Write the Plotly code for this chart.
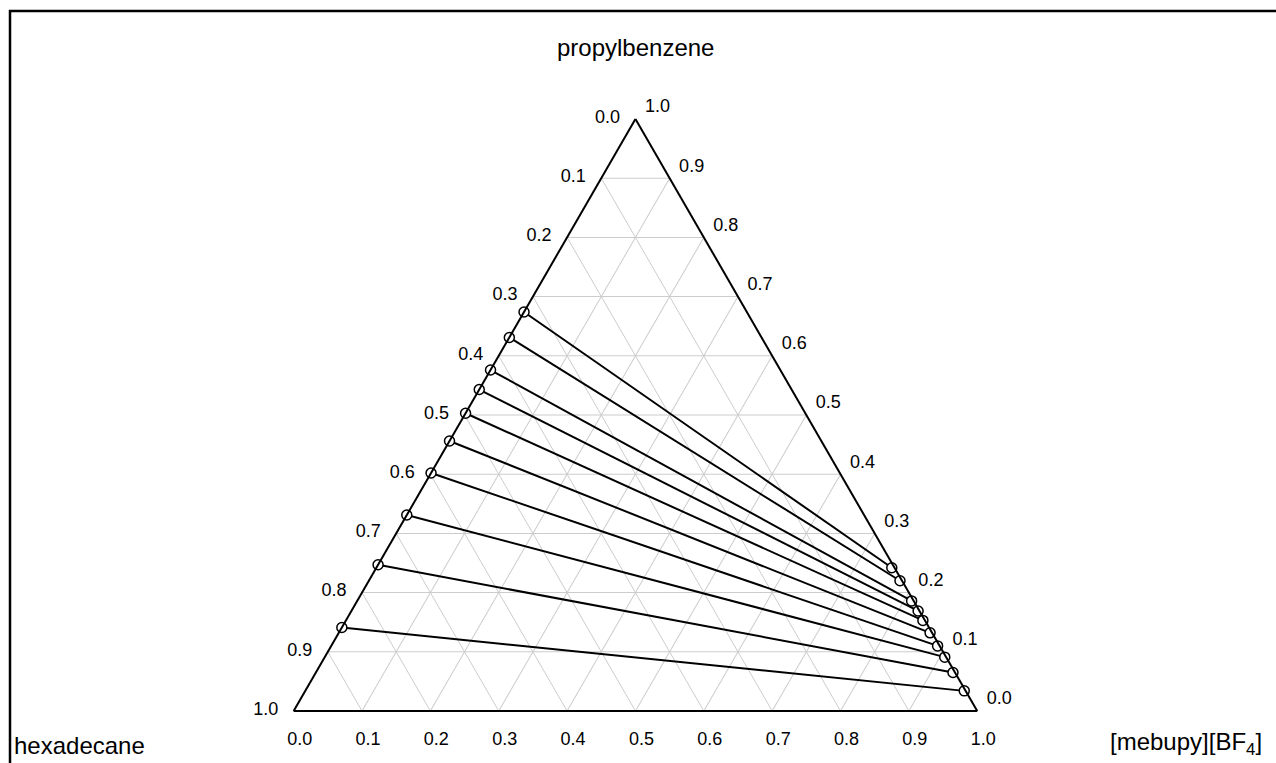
import plotly.graph_objects as go

# ---- data (mass fractions) ----
# hydrocarbon-rich phase (left end of each tie line)
left_propylbenzene = [0.674, 0.631, 0.576, 0.543, 0.503, 0.456, 0.402, 0.331, 0.247, 0.141]
left_hexadecane    = [0.326, 0.369, 0.424, 0.457, 0.497, 0.544, 0.598, 0.669, 0.753, 0.859]
left_mebupy        = [0.000, 0.000, 0.000, 0.000, 0.000, 0.000, 0.000, 0.000, 0.000, 0.000]

# ionic-liquid-rich phase (right end of each tie line)
right_propylbenzene = [0.242, 0.220, 0.186, 0.169, 0.153, 0.132, 0.110, 0.091, 0.065, 0.034]
right_hexadecane    = [0.004, 0.003, 0.003, 0.002, 0.003, 0.003, 0.003, 0.002, 0.003, 0.002]
right_mebupy        = [0.754, 0.777, 0.811, 0.829, 0.844, 0.865, 0.887, 0.907, 0.932, 0.964]

tick_values = [0.0, 0.1, 0.2, 0.3, 0.4, 0.5, 0.6, 0.7, 0.8, 0.9, 1.0]
tick_labels_reversed = ["1.0", "0.9", "0.8", "0.7", "0.6", "0.5", "0.4", "0.3", "0.2", "0.1", "0.0"]

FONT = "Arial, Liberation Sans, sans-serif"

fig = go.Figure()
for i in range(len(left_propylbenzene)):
    fig.add_trace(go.Scatterternary(
        a=[left_propylbenzene[i], right_propylbenzene[i]],
        b=[left_hexadecane[i], right_hexadecane[i]],
        c=[left_mebupy[i], right_mebupy[i]],
        mode="lines+markers",
        line=dict(color="black", width=2),
        marker=dict(size=10, color="white", line=dict(color="black", width=1.5)),
        cliponaxis=False,
        showlegend=False,
        hoverinfo="a+b+c",
    ))

axis_common = dict(
    tickmode="array",
    tickvals=tick_values,
    ticktext=tick_labels_reversed,
    showgrid=True,
    gridcolor="#cccccc",
    gridwidth=1,
    linecolor="black",
    linewidth=2,
    ticks="outside",
    ticklen=12,
    tickcolor="rgba(0,0,0,0)",
    tickfont=dict(family=FONT, size=18, color="black"),
    showline=True,
    title=dict(text=""),
)

fig.update_layout(
    width=1276,
    height=763,
    margin=dict(l=0, r=0, t=0, b=0),
    paper_bgcolor="white",
    font=dict(family=FONT, color="black"),
    ternary=dict(
        sum=1,
        bgcolor="white",
        domain=dict(x=[0.2, 0.796], y=[52 / 763, 644 / 763]),
        aaxis=axis_common,
        baxis=axis_common,
        caxis=axis_common,
    ),
    annotations=[
        dict(text="propylbenzene", x=635 / 1276, y=1 - 47 / 763, xref="paper", yref="paper",
             xanchor="center", yanchor="middle", showarrow=False, font=dict(size=24)),
        dict(text="hexadecane", x=12 / 1276, y=1 - 745 / 763, xref="paper", yref="paper",
             xanchor="left", yanchor="middle", showarrow=False, font=dict(size=24)),
        dict(text="[mebupy][BF<sub>4</sub>]", x=1264 / 1276, y=1 - 743 / 763, xref="paper", yref="paper",
             xanchor="right", yanchor="middle", showarrow=False, font=dict(size=24)),
    ],
    shapes=[
        dict(type="rect", xref="paper", yref="paper",
             x0=10 / 1276, x1=1.05, y0=-0.05, y1=1 - 11 / 763,
             line=dict(color="black", width=2.5), fillcolor="rgba(0,0,0,0)"),
    ],
)

fig.write_html("out.html", config={"displayModeBar": False},
               post_script="document.body.style.margin='0';")
